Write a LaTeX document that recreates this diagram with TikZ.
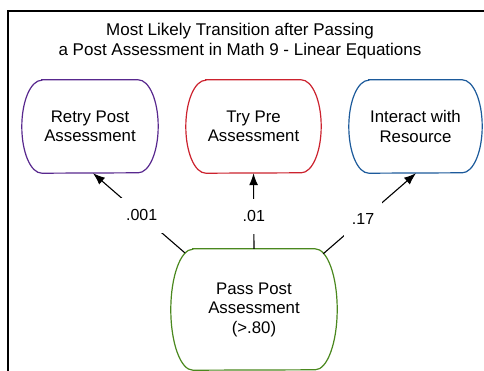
\documentclass[tikz,border=0pt]{standalone}
\usepackage{fontspec}
\setmainfont{Liberation Sans}
\usetikzlibrary{arrows.meta}
\definecolor{cpurple}{RGB}{88,40,142}
\definecolor{cred}{RGB}{204,34,46}
\definecolor{cblue}{RGB}{28,90,155}
\definecolor{cgreen}{RGB}{74,136,30}
\newcommand\drawcap[4]{% node, color, rx, ry
  \draw[#2,line width=1.2pt] ([xshift=#3]#1.north west) -- ([xshift=-#3]#1.north east)
    arc[start angle=90,end angle=-90,x radius=#3,y radius=#4]
    -- ([xshift=#3]#1.south west)
    arc[start angle=270,end angle=90,x radius=#3,y radius=#4] -- cycle;}
\begin{document}
\begin{tikzpicture}[x=1pt,y=-1pt,
  box/.style={draw=none,inner sep=0pt,align=center,font=\fontsize{16.8}{19.5}\selectfont},
  conn/.style={line width=1.1pt,-{Latex[length=12pt,width=9pt]}},
  lab/.style={fill=white,inner xsep=8pt,inner ysep=12pt,font=\fontsize{16}{19}\selectfont}]
\useasboundingbox (0,0) rectangle (484,371);
\fill[white] (0,0) rectangle (484,371);
\draw[line width=1.6pt] (8,372) -- (8,11) -- (485,11);
\node[align=center,inner sep=0pt,font=\fontsize{17}{19.5}\selectfont] (title) at (240,41)
  {Most Likely Transition after Passing\\a Post Assessment in Math 9 - Linear Equations};
\node[box,minimum width=136pt,minimum height=93pt] (retry) at (90,126.5) {Retry Post\\Assessment};
\node[box,minimum width=135pt,minimum height=93pt] (trypre) at (253.5,126.5) {Try Pre\\Assessment};
\node[box,minimum width=133pt,minimum height=93pt] (interact) at (415.5,126.5) {Interact with\\Resource};
\node[box,minimum width=166pt,minimum height=121pt] (pass) at (254,309.5) {Pass Post\\Assessment\\(>.80)};
\drawcap{retry}{cpurple}{20pt}{46.5pt}
\drawcap{trypre}{cred}{20pt}{46.5pt}
\drawcap{interact}{cblue}{20pt}{46.5pt}
\drawcap{pass}{cgreen}{22pt}{60.5pt}
\draw[conn] ([xshift=14pt,yshift=-4pt]pass.north west) -- node[lab,pos=0.47] {.001} ([xshift=3pt]retry.south);
\draw[conn] (pass.north) -- node[lab,pos=0.43] {.01} (trypre.south);
\draw[conn] ([xshift=-14pt,yshift=-5pt]pass.north east) -- node[lab,pos=0.43] {.17} ([xshift=0.5pt]interact.south);
\end{tikzpicture}
\end{document}
